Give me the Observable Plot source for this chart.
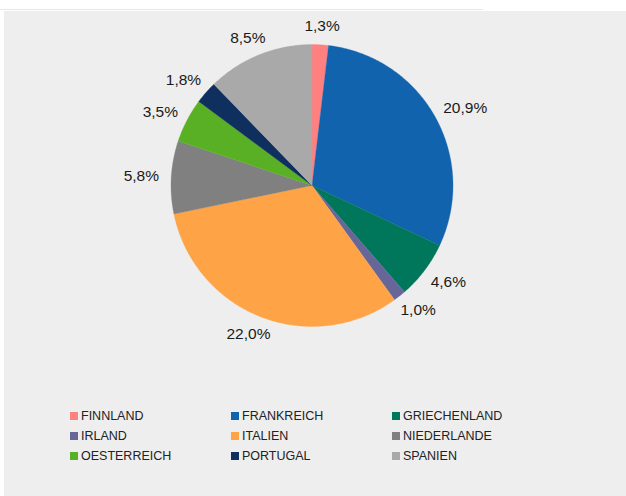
<!DOCTYPE html>
<html>
<head>
<meta charset="utf-8">
<script src="https://cdn.jsdelivr.net/npm/d3@7"></script>
<script src="https://cdn.jsdelivr.net/npm/@observablehq/plot@0.6"></script>
<style>
  html, body { margin: 0; padding: 0; background: #ffffff; width: 626px; height: 496px; overflow: hidden; }
  #topline { position: absolute; left: 0; top: 9px; width: 483px; height: 1px; background: #e8e8e8; }
  #panel { position: absolute; left: 4px; top: 11px; width: 622px; height: 485px; background: #eeeeee; font-family: "Liberation Sans", Arial, sans-serif; }
  #chart svg { display: block; }
  #legend { position: absolute; left: 66px; top: 397px; display: grid; grid-template-columns: 161px 161px 161px; row-gap: 5px; }
  .item { display: flex; align-items: center; font-size: 12.5px; color: #222; height: 15px; }
  .sw { width: 8px; height: 8px; margin-right: 3px; flex: none; }
</style>
</head>
<body>
<div id="topline"></div>
<div id="panel">
  <div id="chart"></div>
  <div id="legend"></div>
</div>
<script>
const countries = ["FINNLAND", "FRANKREICH", "GRIECHENLAND", "IRLAND", "ITALIEN", "NIEDERLANDE", "OESTERREICH", "PORTUGAL", "SPANIEN"];
const shares = [1.3, 20.9, 4.6, 1.0, 22.0, 5.8, 3.5, 1.8, 8.5];
const labels = ["1,3%", "20,9%", "4,6%", "1,0%", "22,0%", "5,8%", "3,5%", "1,8%", "8,5%"];
const colors = ["#ff8080", "#1163ae", "#00765b", "#666699", "#ffa347", "#808080", "#5ab025", "#0f2f5f", "#a9a9a9"];

const W = 622, H = 385;
const cx = 307.5, cy = 174, R = 141;
const labelFont = 15.5;

const arcs = d3.pie().sort(null).value(d => d)(shares);

// slice outlines in unit-circle coordinates (angle 0 at 12 o'clock, clockwise)
const pts = [];
arcs.forEach((a, i) => {
  const name = countries[i];
  pts.push({name, x: 0, y: 0});
  const n = Math.max(2, Math.ceil((a.endAngle - a.startAngle) / 0.01));
  for (let k = 0; k <= n; k++) {
    const t = a.startAngle + (a.endAngle - a.startAngle) * k / n;
    pts.push({name, x: Math.sin(t), y: Math.cos(t)});
  }
  pts.push({name, x: 0, y: 0});
});

// measure label widths so the label box sits just outside the pie
const ctx = document.createElement("canvas").getContext("2d");
ctx.font = `${labelFont}px "Liberation Sans", Arial, sans-serif`;
const lab = arcs.map((a, i) => {
  const t = (a.startAngle + a.endAngle) / 2;
  const hw = ctx.measureText(labels[i]).width / 2 + 1;
  const hh = 7;
  return {
    label: labels[i],
    x: (1.08 + hw / R) * Math.sin(t),
    y: (1.08 + hh / R) * Math.cos(t)
  };
});

const plot = Plot.plot({
  width: W,
  height: H,
  margin: 0,
  style: {background: "transparent", fontFamily: "'Liberation Sans', Arial, sans-serif"},
  x: {domain: [-1, 1], range: [cx - R, cx + R], axis: null},
  y: {domain: [-1, 1], range: [cy + R, cy - R], axis: null},
  color: {domain: countries, range: colors},
  marks: [
    Plot.line(pts, {x: "x", y: "y", z: "name", fill: "name", stroke: "name", strokeWidth: 0.3, curve: "linear"}),
    Plot.text(lab, {x: "x", y: "y", text: "label", fontSize: labelFont, fill: "#1a1a1a"})
  ]
});
document.getElementById("chart").appendChild(plot);

const legend = document.getElementById("legend");
countries.forEach((c, i) => {
  const item = document.createElement("div");
  item.className = "item";
  const sw = document.createElement("span");
  sw.className = "sw";
  sw.style.background = colors[i];
  item.appendChild(sw);
  item.appendChild(document.createTextNode(c));
  legend.appendChild(item);
});
</script>
</body>
</html>
